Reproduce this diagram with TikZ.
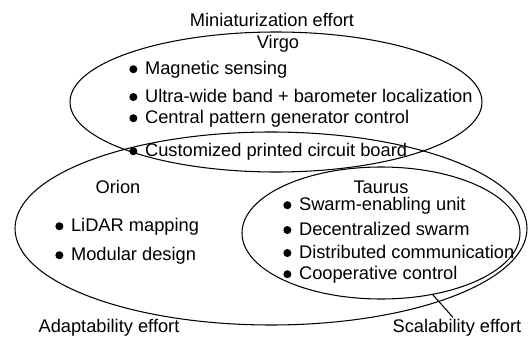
\documentclass[tikz,border=0pt]{standalone}
\usepackage{fontspec}
\setmainfont{Liberation Sans}
\usetikzlibrary{shapes.geometric}
\newcommand{\bul}{\tikz[baseline=0pt]\fill (0pt,0.3em) circle[radius=0.22em];\hspace{0.42em}}
\begin{document}
\begin{tikzpicture}[x=0.02cm, y=-0.02cm, font=\fontsize{10.4pt}{12pt}\selectfont,
  area/.style={shape=ellipse, draw=black, line width=0.6pt, inner sep=0pt},
  item/.style={anchor=west, inner sep=0pt},
  title/.style={inner sep=1pt}]
\useasboundingbox (0,0) rectangle (529,338);
\node[area, minimum width=412*0.02cm, minimum height=140*0.02cm] (virgo) at (276,102) {};
\node[area, minimum width=512*0.02cm, minimum height=193*0.02cm] (orion) at (271,228.5) {};
\node[area, minimum width=278*0.02cm, minimum height=132*0.02cm] (taurus) at (381,233) {};
\node[title] (mini) at (272,20) {Miniaturization effort};
\node[title] (virgolabel) at (278,44) {Virgo};
\node[item] (v1) at (129,70) {\bul Magnetic sensing};
\node[item] (v2) at (129,96) {\bul Ultra-wide band + barometer localization};
\node[item] (v3) at (129,119) {\bul Central pattern generator control};
\node[item] (v4) at (129,152) {\bul Customized printed circuit board};
\node[title] (orionlabel) at (118,187) {Orion};
\node[item] (o1) at (55,227) {\bul LiDAR mapping};
\node[item] (o2) at (55,256) {\bul Modular design};
\node[title] (tauruslabel) at (381,187) {Taurus};
\node[item] (t1) at (283,206) {\bul Swarm-enabling unit};
\node[item] (t2) at (283,229) {\bul Decentralized swarm};
\node[item] (t3) at (283,252) {\bul Distributed communication};
\node[item] (t4) at (283,275) {\bul Cooperative control};
\node[title] (adapt) at (109,328) {Adaptability effort};
\node[title] (scal) at (457,328) {Scalability effort};
\path [-, line width=0.6pt, draw=black] (taurus.-50) edge ([xshift=-0.08cm]scal.north);
\end{tikzpicture}
\end{document}
